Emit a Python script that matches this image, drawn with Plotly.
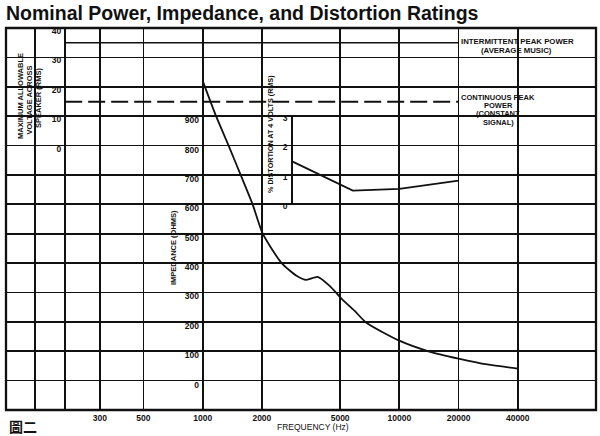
import math
import plotly.graph_objects as go

# ---------------- data ----------------
impedance_freq = [1000, 1170, 1355, 1560, 1795, 2020, 2520, 3000, 3370, 3840,
                  4410, 5080, 5910, 6800, 10000, 14200, 20000, 28000, 40000]
impedance_ohms = [1020, 900, 800, 700, 600, 500, 400, 357, 343, 353,
                  323, 279, 238, 197, 136, 99, 75, 55, 41]

distortion_freq = [2850, 5800, 10000, 20000]
distortion_pct = [1.42, 0.42, 0.48, 0.76]

power_freq = [200, 20000]
intermittent_peak_v = [35, 35]
continuous_peak_v = [15, 15]

freq_grid = [140, 200, 300, 500, 1000, 2000, 5000, 10000, 20000, 40000]
freq_labels = ["", "", "300", "500", "1000", "2000", "5000", "10000", "20000", "40000"]

ohm_ticks = [0, 100, 200, 300, 400, 500, 600, 700, 800, 900, 1000, 1100]
ohm_labels = ["0", "100", "200", "300", "400", "500", "600", "700", "800", "900", "", ""]

volt_ticks = [0, 10, 20, 30, 40]
dist_ticks = [0, 1, 2, 3]

# ---------------- layout helpers ----------------
W, H = 600, 436
ML, MR, MT, MB = 6, 4, 28, 26
PW, PH = W - ML - MR, H - MT - MB


def px(xp):
    return (xp - ML) / PW


def py(yp):
    return (H - MB - yp) / PH


def fpos(f):
    return (math.log10(f) - 2) / 3


FONT = "Liberation Sans, Arial, sans-serif"
BLACK = "#111111"
CLEAR = "rgba(0,0,0,0)"
GRID_W = 1.7

fig = go.Figure()

fig.add_trace(go.Scatter(x=impedance_freq, y=impedance_ohms, mode="lines",
                         line=dict(color=BLACK, width=1.8, shape="spline", smoothing=0.6),
                         xaxis="x", yaxis="y", showlegend=False, hoverinfo="skip"))
fig.add_trace(go.Scatter(x=distortion_freq, y=distortion_pct, mode="lines",
                         line=dict(color=BLACK, width=1.8),
                         xaxis="x", yaxis="y3", showlegend=False, hoverinfo="skip"))
fig.add_trace(go.Scatter(x=power_freq, y=intermittent_peak_v, mode="lines",
                         line=dict(color=BLACK, width=1.7),
                         xaxis="x", yaxis="y2", showlegend=False, hoverinfo="skip"))
fig.add_trace(go.Scatter(x=power_freq, y=continuous_peak_v, mode="lines",
                         line=dict(color=BLACK, width=1.9, dash="17px,6px"),
                         xaxis="x", yaxis="y2", showlegend=False, hoverinfo="skip"))

tickfont = dict(family=FONT, size=8.5, color=BLACK, weight="bold")

fig.update_layout(
    width=W, height=H,
    margin=dict(l=ML, r=MR, t=MT, b=MB, pad=0),
    paper_bgcolor="white", plot_bgcolor=CLEAR,
    font=dict(family=FONT, color=BLACK),
    showlegend=False,
    xaxis=dict(type="log", range=[2, 5], domain=[0, 1],
               tickmode="array", tickvals=freq_grid, ticktext=freq_labels,
               showgrid=True, gridcolor=BLACK, gridwidth=GRID_W,
               ticks="", showline=False, zeroline=False,
               tickfont=tickfont, ticklabelstandoff=1),
    yaxis=dict(range=[-100, 1200], domain=[0, 1], anchor="free", position=fpos(1000),
               tickmode="array", tickvals=ohm_ticks, ticktext=ohm_labels,
               showgrid=True, gridcolor=BLACK, gridwidth=GRID_W,
               showline=True, linecolor=BLACK, linewidth=2.3,
               ticks="", zeroline=False, tickfont=tickfont, ticklabelshift=4,
               ticklabelstandoff=1),
    yaxis2=dict(range=[0, 40], domain=[py(146), 1], anchor="free", position=fpos(200),
                tickmode="array", tickvals=volt_ticks,
                showgrid=False, showline=False, ticks="", zeroline=False,
                tickfont=tickfont, ticklabelshift=3, ticklabelstandoff=4),
    yaxis3=dict(range=[0, 3], domain=[py(203), py(115)], anchor="free",
                position=fpos(distortion_freq[0]),
                tickmode="array", tickvals=dist_ticks,
                showgrid=False, showline=True, linecolor=BLACK, linewidth=2.3,
                ticks="", zeroline=False, tickfont=tickfont, ticklabelshift=3,
                ticklabelstandoff=2),
)

# outer frame
fig.add_shape(type="rect", xref="paper", yref="paper", x0=0, x1=1, y0=0, y1=1,
              line=dict(color=BLACK, width=2.3), layer="above")


def ann(text, xp, yp, size=7.5, angle=0, xanchor="center", yanchor="middle", bold=True, family=FONT):
    fig.add_annotation(text=text, xref="paper", yref="paper", x=px(xp), y=py(yp),
                       xanchor=xanchor, yanchor=yanchor, showarrow=False, textangle=angle,
                       font=dict(family=family, size=size, color=BLACK,
                                 weight="bold" if bold else "normal"))


# title
ann("Nominal Power, Impedance, and Distortion Ratings", 4, 13, size=19.5, xanchor="left")

# voltage axis title
ann("MAXIMUM ALLOWABLE", 21, 96, size=7.5, angle=-90)
ann("VOLTAGE ACROSS", 29.5, 100, size=7.5, angle=-90)
ann("SPEAKER (RMS)", 38, 98, size=7.5, angle=-90)

# impedance & distortion titles
ann("IMPEDANCE (OHMS)", 173, 248, size=7.5, angle=-90)
ann("% DISTORTION AT 4 VOLTS (RMS)", 270, 134, size=7.2, angle=-90)

# power labels
ann("INTERMITTENT PEAK POWER", 517, 42, size=7.8)
ann("(AVERAGE MUSIC)", 516, 50, size=7.8)
ann("CONTINUOUS PEAK", 498, 97, size=7.5)
ann("POWER", 498, 105.5, size=7.5)
ann("(CONSTANT", 498, 114, size=7.5)
ann("SIGNAL)", 498, 122.5, size=7.5)

# x axis title and figure number
ann("FREQUENCY (Hz)", 313, 427, size=8.5, bold=False)
ann("圖二", 7, 426, size=14, xanchor="left", family="Noto Sans CJK TC")

fig.write_html("out.html",
               config={"displayModeBar": False, "staticPlot": True},
               post_script="document.body.style.margin='0';document.body.style.overflow='hidden';")
